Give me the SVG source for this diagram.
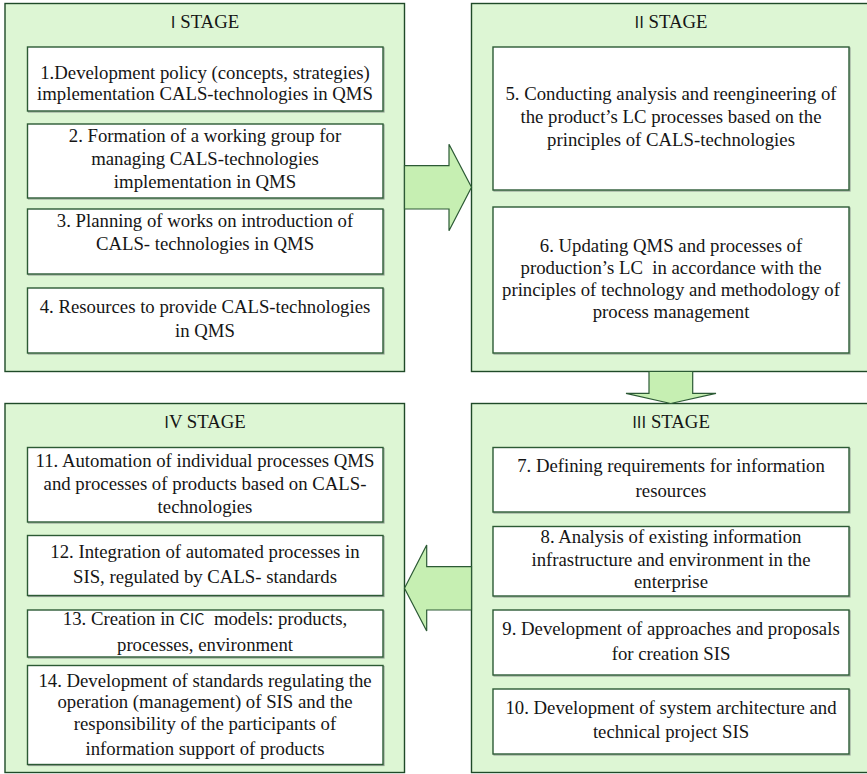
<svg xmlns="http://www.w3.org/2000/svg" width="867" height="774" viewBox="0 0 867 774">
<defs>
<style>
.stage{fill:#ddf6d4;stroke:#1f4a28;stroke-width:1.4}
.box{fill:#ffffff;stroke:#2c5a35;stroke-width:1.4}
.shadow{fill:none;stroke:#9aa59a;stroke-width:1.2}
.arrow{fill:#c6efb2;stroke:#2c5a35;stroke-width:1.2;stroke-linejoin:miter}
text{font-family:"Liberation Serif","Times New Roman",serif;font-size:18.75px;fill:#151515;text-anchor:middle;white-space:pre}
.num{font-family:"Noto Sans CJK SC","DejaVu Sans",sans-serif;font-size:16px}
</style>
</defs>
<rect x="0" y="0" width="867" height="774" fill="#ffffff"/>

<g id="stage1">
<rect class="stage" x="5" y="3.5" width="399.5" height="368"/>
<text x="205" y="28"><tspan class="num">I</tspan> STAGE</text>
</g>
<g id="node1">
<rect class="shadow" x="28.5" y="48" width="355.5" height="64"/>
<rect class="box" x="27.5" y="47" width="355.5" height="64"/>
<text x="205" y="78.5">1.Development policy (concepts, strategies)</text>
<text x="205" y="100">implementation CALS-technologies in QMS</text>
</g>
<g id="node2">
<rect class="shadow" x="28.5" y="125" width="355.5" height="74"/>
<rect class="box" x="27.5" y="124" width="355.5" height="74"/>
<text x="205" y="142">2. Formation of a working group for</text>
<text x="205" y="165">managing CALS-technologies</text>
<text x="205" y="188">implementation in QMS</text>
</g>
<g id="node3">
<rect class="shadow" x="28.5" y="210" width="355.5" height="65"/>
<rect class="box" x="27.5" y="209" width="355.5" height="65"/>
<text x="205" y="227">3. Planning of works on introduction of</text>
<text x="205" y="250">CALS- technologies in QMS</text>
</g>
<g id="node4">
<rect class="shadow" x="28.5" y="289" width="355.5" height="65"/>
<rect class="box" x="27.5" y="288" width="355.5" height="65"/>
<text x="205" y="313">4. Resources to provide CALS-technologies</text>
<text x="205" y="336.5">in QMS</text>
</g>

<g id="stage2">
<rect class="stage" x="471.5" y="3.5" width="400" height="368"/>
<text x="671" y="27.5"><tspan class="num">II</tspan> STAGE</text>
</g>
<g id="node5">
<rect class="shadow" x="494" y="48" width="356" height="143"/>
<rect class="box" x="493" y="47" width="356" height="143"/>
<text x="671" y="100">5. Conducting analysis and reengineering of</text>
<text x="671" y="122.5">the product’s LC processes based on the</text>
<text x="671" y="145.5">principles of CALS-technologies</text>
</g>
<g id="node6">
<rect class="shadow" x="494" y="208" width="356" height="146"/>
<rect class="box" x="493" y="207" width="356" height="146"/>
<text x="671" y="251.5">6. Updating QMS and processes of</text>
<text x="671" y="273.5">production’s LC  in accordance with the</text>
<text x="671" y="295.5">principles of technology and methodology of</text>
<text x="671" y="318">process management</text>
</g>

<g id="stage3">
<rect class="stage" x="471.5" y="403.5" width="400" height="369"/>
<text x="671" y="428"><tspan class="num">III</tspan> STAGE</text>
</g>
<g id="node7">
<rect class="shadow" x="494" y="448.5" width="356" height="64.5"/>
<rect class="box" x="493" y="447.5" width="356" height="64.5"/>
<text x="671" y="471.5">7. Defining requirements for information</text>
<text x="671" y="496.5">resources</text>
</g>
<g id="node8">
<rect class="shadow" x="494" y="527.5" width="356" height="69.5"/>
<rect class="box" x="493" y="526.5" width="356" height="69.5"/>
<text x="671" y="543">8. Analysis of existing information</text>
<text x="671" y="566">infrastructure and environment in the</text>
<text x="671" y="587.5">enterprise</text>
</g>
<g id="node9">
<rect class="shadow" x="494" y="611" width="356" height="65"/>
<rect class="box" x="493" y="610" width="356" height="65"/>
<text x="671" y="635">9. Development of approaches and proposals</text>
<text x="671" y="660">for creation SIS</text>
</g>
<g id="node10">
<rect class="shadow" x="494" y="690" width="356" height="65"/>
<rect class="box" x="493" y="689" width="356" height="65"/>
<text x="671" y="714">10. Development of system architecture and</text>
<text x="671" y="738">technical project SIS</text>
</g>

<g id="stage4">
<rect class="stage" x="5" y="403.5" width="399.5" height="369"/>
<text x="205" y="428"><tspan class="num">I</tspan>V STAGE</text>
</g>
<g id="node11">
<rect class="shadow" x="28.5" y="448.5" width="355.5" height="74.5"/>
<rect class="box" x="27.5" y="447.5" width="355.5" height="74.5"/>
<text x="205" y="466.5">11. Automation of individual processes QMS</text>
<text x="205" y="490">and processes of products based on CALS-</text>
<text x="205" y="513">technologies</text>
</g>
<g id="node12">
<rect class="shadow" x="28.5" y="536.5" width="355.5" height="60"/>
<rect class="box" x="27.5" y="535.5" width="355.5" height="60"/>
<text x="205" y="558">12. Integration of automated processes in</text>
<text x="205" y="583">SIS, regulated by CALS- standards</text>
</g>
<g id="node13">
<rect class="shadow" x="28.5" y="611" width="355.5" height="47"/>
<rect class="box" x="27.5" y="610" width="355.5" height="47"/>
<text x="205" y="625">13. Creation in <tspan class="num">CIC</tspan>  models: products,</text>
<text x="205" y="651">processes, environment</text>
</g>
<g id="node14">
<rect class="shadow" x="28.5" y="666.5" width="355.5" height="99"/>
<rect class="box" x="27.5" y="665.5" width="355.5" height="99"/>
<text x="205" y="686.5">14. Development of standards regulating the</text>
<text x="205" y="708">operation (management) of SIS and the</text>
<text x="205" y="730">responsibility of the participants of</text>
<text x="205" y="755">information support of products</text>
</g>

<g id="connectors">
<polygon class="arrow" points="404.5,165.7 449,165.7 449,144.3 471.5,187.3 449,230.7 449,209 404.5,209"/>
<polygon class="arrow" points="649,371.5 692.7,371.5 692.7,393.3 716,393.3 670.7,403.5 626,393.3 649,393.3"/>
<polygon class="arrow" points="471.5,566.7 426.7,566.7 426.7,545 404.5,588.3 426.7,631 426.7,610 471.5,610"/>
</g>
</svg>
